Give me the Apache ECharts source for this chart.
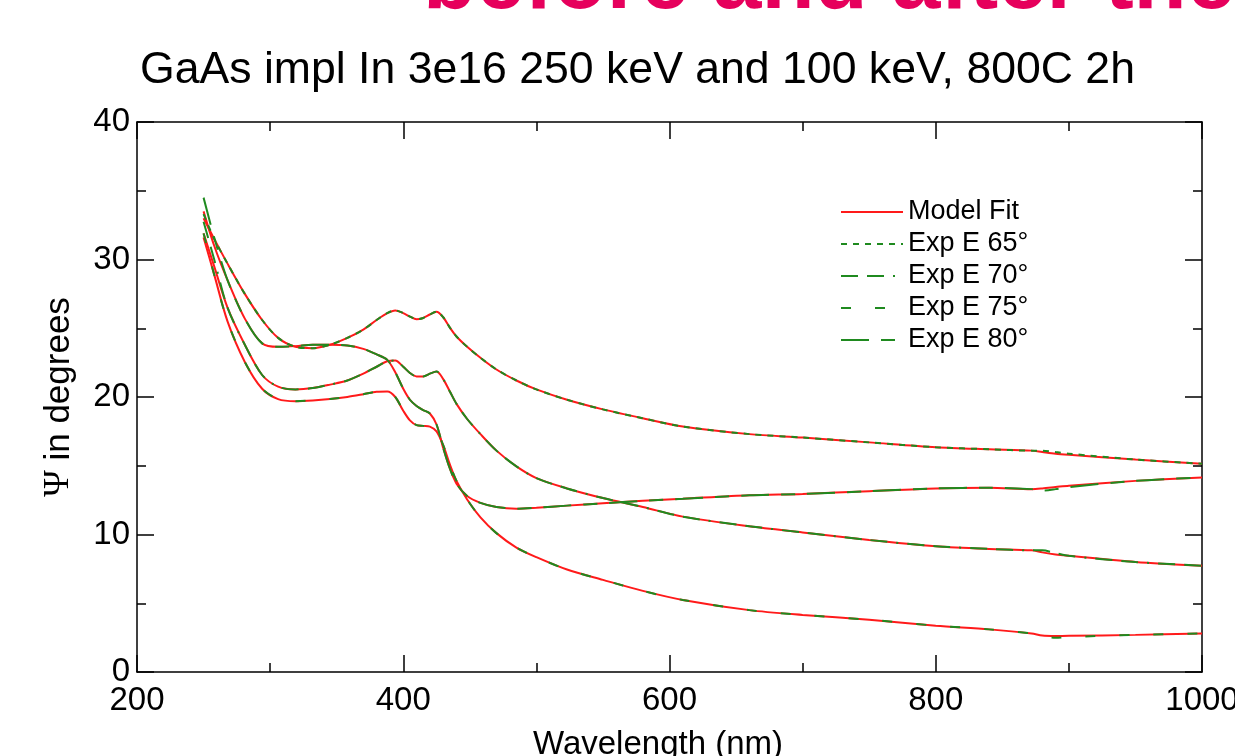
<!DOCTYPE html>
<html>
<head>
<meta charset="utf-8">
<script src="https://cdn.jsdelivr.net/npm/echarts@6/dist/echarts.min.js"></script>
<style>
  html, body { margin: 0; padding: 0; background: #fff; }
  #chart { width: 1235px; height: 756px; }
</style>
</head>
<body>
<div id="chart"></div>
<script>
// Wavelength grid (nm) shared by all curves
const wavelength = [250, 258, 268, 281, 294, 306, 319, 332, 345, 358, 370, 380, 388, 394, 400, 405, 410, 415, 420, 425, 430, 435, 440, 448, 458, 470, 485, 500, 523, 550, 580, 610, 660, 700, 750, 800, 840, 872, 880, 890, 900, 950, 1000];

// Psi (degrees): model fit and measured, per angle of incidence
const fit65 = [33.0, 31.5, 29.7, 27.5, 25.6, 24.3, 23.65, 23.55, 23.8, 24.3, 24.9, 25.6, 26.1, 26.3, 26.1, 25.85, 25.65, 25.75, 26.0, 26.2, 25.8, 25.05, 24.4, 23.65, 22.85, 22.0, 21.2, 20.55, 19.8, 19.1, 18.45, 17.85, 17.3, 17.05, 16.7, 16.35, 16.2, 16.1, 16.0, 15.88, 15.8, 15.45, 15.15];
const exp65 = [33.3, 31.5, 29.7, 27.5, 25.6, 24.3, 23.65, 23.55, 23.8, 24.3, 24.9, 25.6, 26.1, 26.3, 26.1, 25.85, 25.65, 25.75, 26.0, 26.2, 25.8, 25.05, 24.4, 23.65, 22.85, 22.0, 21.2, 20.55, 19.8, 19.1, 18.45, 17.85, 17.3, 17.05, 16.7, 16.35, 16.2, 16.1, 16.1, 16.0, 15.88, 15.45, 15.15];

const fit70 = [31.9, 29.5, 26.5, 23.8, 21.6, 20.75, 20.55, 20.65, 20.9, 21.2, 21.7, 22.2, 22.6, 22.65, 22.2, 21.75, 21.5, 21.5, 21.7, 21.85, 21.3, 20.4, 19.5, 18.4, 17.3, 16.1, 14.95, 14.1, 13.35, 12.65, 12.0, 11.3, 10.6, 10.15, 9.6, 9.15, 8.95, 8.85, 8.7, 8.55, 8.45, 8.0, 7.73];
const exp70 = [32.75, 30.0, 26.5, 23.8, 21.6, 20.75, 20.55, 20.65, 20.9, 21.2, 21.7, 22.2, 22.6, 22.65, 22.2, 21.75, 21.5, 21.5, 21.7, 21.85, 21.3, 20.4, 19.5, 18.4, 17.3, 16.1, 14.95, 14.1, 13.35, 12.65, 12.0, 11.3, 10.6, 10.15, 9.6, 9.15, 8.95, 8.85, 8.85, 8.65, 8.45, 8.0, 7.73];

const fit75 = [31.6, 28.9, 25.5, 22.55, 20.6, 19.85, 19.7, 19.75, 19.85, 20.0, 20.2, 20.38, 20.4, 20.0, 19.0, 18.3, 17.95, 17.9, 17.85, 17.5, 16.5, 15.1, 13.9, 12.55, 11.25, 10.1, 9.05, 8.35, 7.45, 6.7, 5.9, 5.24, 4.5, 4.15, 3.8, 3.37, 3.1, 2.8, 2.65, 2.62, 2.63, 2.7, 2.8];
const exp75 = [31.9, 28.9, 25.5, 22.55, 20.6, 19.85, 19.7, 19.75, 19.85, 20.0, 20.2, 20.38, 20.4, 20.0, 19.0, 18.3, 17.95, 17.9, 17.85, 17.5, 16.5, 15.1, 13.9, 12.55, 11.25, 10.1, 9.05, 8.35, 7.45, 6.7, 5.9, 5.24, 4.5, 4.15, 3.8, 3.37, 3.1, 2.8, 2.6, 2.5, 2.55, 2.7, 2.8];

const fit80 = [33.5, 31.0, 28.5, 25.7, 23.9, 23.65, 23.7, 23.8, 23.8, 23.75, 23.5, 23.1, 22.7, 21.8, 20.6, 19.8, 19.35, 19.05, 18.8, 18.0, 16.3, 14.8, 13.7, 12.8, 12.3, 12.0, 11.88, 11.95, 12.1, 12.27, 12.45, 12.6, 12.85, 12.95, 13.15, 13.35, 13.4, 13.3, 13.35, 13.45, 13.55, 13.9, 14.15];
const exp80 = [34.5, 31.6, 28.5, 25.7, 23.9, 23.65, 23.7, 23.8, 23.8, 23.75, 23.5, 23.1, 22.7, 21.8, 20.6, 19.8, 19.35, 19.05, 18.8, 18.0, 16.3, 14.8, 13.7, 12.8, 12.3, 12.0, 11.88, 11.95, 12.1, 12.27, 12.45, 12.6, 12.85, 12.95, 13.15, 13.35, 13.4, 13.3, 13.2, 13.3, 13.45, 13.9, 14.15];

const fitName = 'Model Fit';
const expNames = ['Exp E 65°', 'Exp E 70°', 'Exp E 75°', 'Exp E 80°'];
const fits = [fit65, fit70, fit75, fit80];
const exps = [exp65, exp70, exp75, exp80];

const RED = '#ff1a1a';
const GREEN = '#1f8a1f';
const FONT = '"Liberation Sans", Arial, sans-serif';
// dash pattern of each measured curve
const dashes = [[6, 6], [17, 9, 17, 9, 2, 9], [10, 24], [28, 12, 14, 12]];

const pairs = arr => wavelength.map((w, i) => [w, arr[i]]);

const series = [];
fits.forEach(f => series.push({
  name: fitName, type: 'line', data: pairs(f), showSymbol: false, symbol: 'none',
  smooth: 0.3, lineStyle: { color: RED, width: 2 }, itemStyle: { color: RED }
}));
exps.forEach((e, i) => series.push({
  name: expNames[i], type: 'line', data: pairs(e), showSymbol: false, symbol: 'none',
  smooth: 0.3, lineStyle: { color: GREEN, width: 2, type: dashes[i] }, itemStyle: { color: GREEN }
}));

const tickStyle = { color: '#000', width: 1.5 };
const plainNumber = v => String(v);
const baseX = {
  type: 'value', min: 200, max: 1000, interval: 200,
  axisLine: { show: true, onZero: false, lineStyle: tickStyle },
  axisTick: { show: true, inside: true, length: 17, lineStyle: tickStyle },
  minorTick: { show: true, splitNumber: 2, length: 9, lineStyle: tickStyle },
  splitLine: { show: false }
};
const baseY = {
  type: 'value', min: 0, max: 40, interval: 10,
  axisLine: { show: true, onZero: false, lineStyle: tickStyle },
  axisTick: { show: true, inside: true, length: 17, lineStyle: tickStyle },
  minorTick: { show: true, splitNumber: 2, length: 9, lineStyle: tickStyle },
  splitLine: { show: false }
};

const chart = echarts.init(document.getElementById('chart'), null, { renderer: 'canvas' });
chart.setOption({
  backgroundColor: '#fff',
  animation: false,
  title: {
    text: 'GaAs impl In 3e16 250 keV and 100 keV, 800C 2h',
    left: 140, top: 48, padding: 0,
    textStyle: { fontFamily: FONT, fontSize: 44.6, fontWeight: 'normal', color: '#000' }
  },
  graphic: [{
    type: 'text', x: 423, y: -16,
    style: {
      text: 'before and after the',
      font: 'bold 87px "Liberation Sans", Arial, sans-serif',
      fill: '#e6005c', align: 'left', verticalAlign: 'middle'
    }
  }],
  legend: {
    orient: 'vertical', left: 840, top: 196, padding: 0,
    itemWidth: 62, itemHeight: 2, itemGap: 0,
    data: [fitName].concat(expNames),
    itemStyle: { opacity: 0 },
    textStyle: { fontFamily: FONT, fontSize: 27, color: '#000', lineHeight: 32 }
  },
  grid: { left: 137, right: 33, top: 122, bottom: 84, containLabel: false, outerBoundsMode: 'none' },
  xAxis: [
    Object.assign({}, baseX, {
      position: 'bottom',
      axisLabel: { show: true, color: '#000', fontFamily: FONT, fontSize: 33, margin: 12, formatter: plainNumber },
      name: 'Wavelength (nm)', nameLocation: 'middle', nameGap: 56,
      nameTextStyle: { fontFamily: FONT, fontSize: 33, color: '#000', padding: [0, 23, 0, 0] }
    }),
    Object.assign({}, baseX, { position: 'top', axisLabel: { show: false } })
  ],
  yAxis: [
    Object.assign({}, baseY, {
      position: 'left',
      axisLabel: { show: true, color: '#000', fontFamily: FONT, fontSize: 33, margin: 7, formatter: plainNumber },
      name: '{g|Ψ} in degrees', nameLocation: 'middle', nameGap: 60,
      nameTextStyle: {
        fontFamily: FONT, fontSize: 35, color: '#000', padding: [0, 0, 0, 0],
        rich: { g: { fontFamily: '"Liberation Serif", "Times New Roman", serif', fontSize: 36, color: '#000' } }
      }
    }),
    Object.assign({}, baseY, { position: 'right', axisLabel: { show: false } })
  ],
  series: series
});
</script>
</body>
</html>
